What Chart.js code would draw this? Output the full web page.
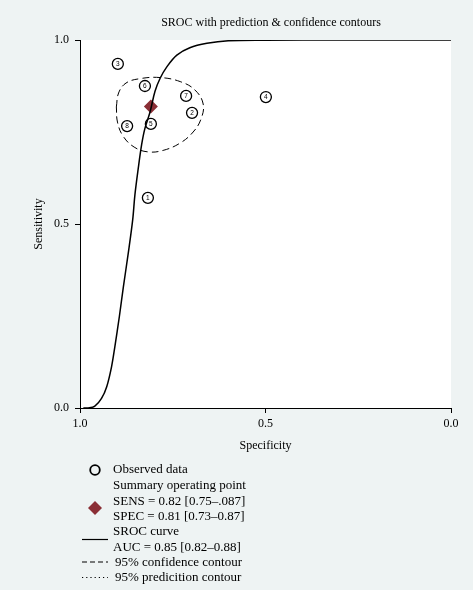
<!DOCTYPE html>
<html><head><meta charset="utf-8">
<script src="https://cdn.jsdelivr.net/npm/chart.js@4.4.1/dist/chart.umd.min.js"></script>
<style>
html,body{margin:0;padding:0;background:#eef3f3;}
#wrap{position:relative;width:473px;height:590px;overflow:hidden;}
#c{position:absolute;left:0;top:0;}
.lg{position:absolute;left:113px;font-family:"Liberation Serif",serif;font-size:13px;line-height:16px;color:#000;white-space:nowrap;}
#lgs{position:absolute;left:0;top:0;}
</style></head><body>
<div id="wrap">
<canvas id="c" width="473" height="590"></canvas>
<svg id="lgs" width="473" height="590">
  <circle cx="95" cy="470" r="4.8" fill="none" stroke="#000" stroke-width="1.8"/>
  <polygon points="95,501 102,508 95,515 88,508" fill="#8a2e35"/>
  <line x1="82" y1="539.5" x2="108" y2="539.5" stroke="#000" stroke-width="1.2"/>
  <line x1="82" y1="562" x2="108" y2="562" stroke="#000" stroke-width="1.2" stroke-dasharray="5,3"/>
  <line x1="82" y1="577.5" x2="108" y2="577.5" stroke="#000" stroke-width="1" stroke-dasharray="1.2,3"/>
</svg>
<div class="lg" style="top:461px">Observed data</div>
<div class="lg" style="top:477px">Summary operating point</div>
<div class="lg" style="top:493px">SENS = 0.82 [0.75–.087]</div>
<div class="lg" style="top:508px">SPEC = 0.81 [0.73–0.87]</div>
<div class="lg" style="top:523px">SROC curve</div>
<div class="lg" style="top:539px">AUC = 0.85 [0.82–0.88]</div>
<div class="lg" style="top:554px;left:115px">95% confidence contour</div>
<div class="lg" style="top:569px;left:115px">95% predicition contour</div>
</div>
<script>
const chartTitle = 'SROC with prediction & confidence contours';
const xTitle = 'Specificity';
const yTitle = 'Sensitivity';
const tickValues = [0, 0.5, 1];

const studyLabels = ['1','2','3','4','5','6','7','8'];
const studySpec = [0.817, 0.698, 0.898, 0.499, 0.809, 0.825, 0.714, 0.873];
const studySens = [0.571, 0.802, 0.935, 0.845, 0.772, 0.875, 0.848, 0.766];

const summarySpec = [0.809];
const summarySens = [0.819];

const srocSpec = [0.991, 0.978, 0.960, 0.942, 0.928, 0.915, 0.906, 0.894, 0.883, 0.870, 0.858, 0.852, 0.843, 0.834, 0.825, 0.811, 0.798, 0.784, 0.766, 0.739, 0.704, 0.658, 0.600, 0.500, 0.300, 0.000];
const srocSens = [0.000, 0.000, 0.005, 0.026, 0.058, 0.112, 0.167, 0.248, 0.330, 0.420, 0.511, 0.579, 0.651, 0.715, 0.760, 0.805, 0.860, 0.896, 0.927, 0.959, 0.979, 0.991, 0.998, 0.9995, 1.000, 1.000];

const confSpec = [0.902, 0.896, 0.876, 0.838, 0.784, 0.730, 0.690, 0.668, 0.674, 0.695, 0.730, 0.776, 0.817, 0.854, 0.884, 0.899, 0.902];
const confSens = [0.818, 0.856, 0.883, 0.895, 0.898, 0.887, 0.864, 0.826, 0.785, 0.750, 0.720, 0.700, 0.696, 0.709, 0.739, 0.777, 0.818];

const pts = (xs, ys) => xs.map((x, i) => ({x: x, y: ys[i]}));

const bgPlugin = {
  id: 'bg',
  beforeDraw(chart) {
    const {ctx, chartArea: a} = chart;
    ctx.save();
    ctx.fillStyle = '#ffffff';
    ctx.fillRect(a.left, a.top, a.right - a.left, a.bottom - a.top);
    ctx.restore();
  },
  afterDraw(chart) {
    const ctx = chart.ctx;
    ctx.save();
    ctx.fillStyle = '#000';
    ctx.font = '12px "Liberation Serif", serif';
    ctx.textAlign = 'center';
    ctx.textBaseline = 'middle';
    ctx.fillText(chartTitle, 271, 23);
    const meta = chart.getDatasetMeta(3);
    ctx.font = '6.5px "Liberation Sans", sans-serif';
    meta.data.forEach((el, i) => {
      ctx.fillText(studyLabels[i], el.x, el.y + 0.5);
    });
    ctx.restore();
  }
};

const serif = {family: '"Liberation Serif", serif', size: 12};

new Chart(document.getElementById('c'), {
  type: 'scatter',
  data: {
    datasets: [
      {
        label: 'SROC curve',
        data: pts(srocSpec, srocSens),
        showLine: true,
        borderColor: '#000',
        borderWidth: 1.5,
        pointRadius: 0,
        tension: 0.35,
        order: 1
      },
      {
        label: '95% confidence contour',
        data: pts(confSpec, confSens),
        showLine: true,
        borderColor: '#000',
        borderWidth: 1,
        borderDash: [7, 4],
        pointRadius: 0,
        tension: 0.4,
        order: 2
      },
      {
        label: 'Summary operating point',
        data: pts(summarySpec, summarySens),
        pointStyle: 'rectRot',
        pointRadius: 7,
        backgroundColor: '#8a2e35',
        borderColor: '#8a2e35',
        borderWidth: 0,
        order: 3
      },
      {
        label: 'Observed data',
        data: pts(studySpec, studySens),
        pointStyle: 'circle',
        pointRadius: 5.5,
        backgroundColor: '#ffffff',
        borderColor: '#000',
        borderWidth: 1.3,
        order: 4
      }
    ]
  },
  options: {
    responsive: false,
    animation: false,
    layout: {padding: {top: 40, right: 22, bottom: 132, left: 0}},
    plugins: {legend: {display: false}, tooltip: {enabled: false}, title: {display: false}},
    scales: {
      x: {
        type: 'linear', min: 0, max: 1, reverse: true,
        afterBuildTicks(s) { s.ticks = tickValues.map(v => ({value: v})); },
        afterFit(s) { s.height = 50; s.paddingLeft = 0; s.paddingRight = 0; },
        ticks: {color: '#000', font: serif, padding: 4, maxRotation: 0, callback: v => v.toFixed(1)},
        grid: {display: true, drawOnChartArea: false, drawTicks: true, tickLength: 5, color: '#000', lineWidth: 1},
        border: {display: true, color: '#000', width: 1},
        title: {display: true, text: xTitle, color: '#000', font: serif, padding: {top: 0, bottom: 5}}
      },
      y: {
        type: 'linear', min: 0, max: 1,
        afterBuildTicks(s) { s.ticks = tickValues.map(v => ({value: v})); },
        afterFit(s) { s.width = 80; s.paddingTop = 0; s.paddingBottom = 0; },
        ticks: {color: '#000', font: serif, padding: 6, callback: v => v.toFixed(1)},
        grid: {display: true, drawOnChartArea: false, drawTicks: true, tickLength: 5, color: '#000', lineWidth: 1},
        border: {display: true, color: '#000', width: 1},
        title: {display: true, text: yTitle, color: '#000', font: serif, padding: {top: 32, bottom: 0}}
      }
    }
  },
  plugins: [bgPlugin]
});
</script>
</body></html>
